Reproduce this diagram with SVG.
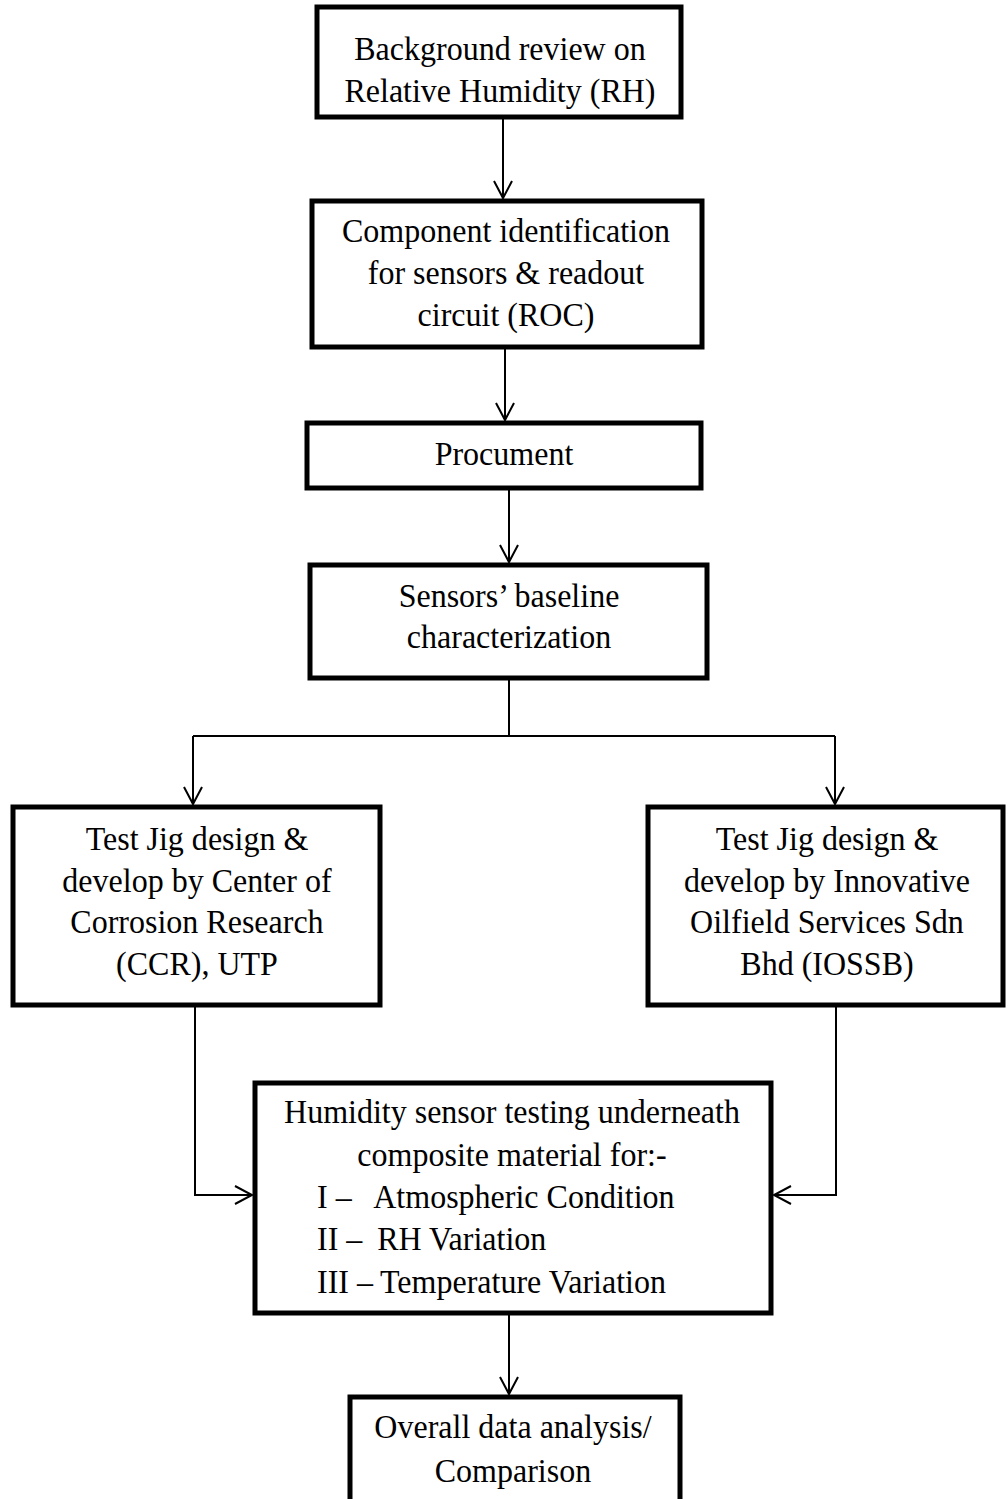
<svg xmlns="http://www.w3.org/2000/svg" width="1008" height="1499" viewBox="0 0 1008 1499">
<style>
.box{fill:#fff;stroke:#000;stroke-width:5;stroke-linejoin:miter}
.t{font-family:"Liberation Serif","Times New Roman",serif;font-size:33px;fill:#000;text-anchor:middle;transform-box:fill-box;transform-origin:center;transform:scaleX(0.97)}
.l{font-family:"Liberation Serif","Times New Roman",serif;font-size:33px;fill:#000;text-anchor:start;transform-box:fill-box;transform-origin:left center;transform:scaleX(0.97)}
.c{fill:none;stroke:#000;stroke-width:2}
</style>
<defs>
<marker id="arr" markerUnits="userSpaceOnUse" markerWidth="40" markerHeight="40" viewBox="-20 -20 40 40" refX="0" refY="0" orient="auto" overflow="visible">
<path d="M-17,-9 L0,0 L-17,9" fill="none" stroke="#000" stroke-width="2"/>
</marker>
</defs>
<rect width="1008" height="1499" fill="#fff"/>
<g id="connectors">
<line class="c" x1="503" y1="117" x2="503" y2="198" marker-end="url(#arr)"/>
<line class="c" x1="505" y1="347" x2="505" y2="420" marker-end="url(#arr)"/>
<line class="c" x1="509" y1="488" x2="509" y2="562" marker-end="url(#arr)"/>
<polyline class="c" points="509,678 509,736"/>
<polyline class="c" points="193,736 835,736"/>
<line class="c" x1="193" y1="736" x2="193" y2="804" marker-end="url(#arr)"/>
<line class="c" x1="835" y1="736" x2="835" y2="804" marker-end="url(#arr)"/>
<polyline class="c" points="195,1005 195,1195 252,1195" marker-end="url(#arr)"/>
<polyline class="c" points="836,1005 836,1195 774,1195" marker-end="url(#arr)"/>
<line class="c" x1="509" y1="1313" x2="509" y2="1394" marker-end="url(#arr)"/>
</g>
<g id="n1">
<rect class="box" x="317" y="7" width="364" height="110"/>
<text class="t" x="500" y="60">Background review on</text>
<text class="t" x="500" y="102">Relative Humidity (RH)</text>
</g>
<g id="n2">
<rect class="box" x="312" y="201" width="390" height="146"/>
<text class="t" x="506" y="242">Component identification</text>
<text class="t" x="506" y="284">for sensors &amp; readout</text>
<text class="t" x="506" y="326">circuit (ROC)</text>
</g>
<g id="n3">
<rect class="box" x="307" y="423" width="394" height="65"/>
<text class="t" x="504" y="465">Procument</text>
</g>
<g id="n4">
<rect class="box" x="310" y="565" width="397" height="113"/>
<text class="t" x="509" y="607">Sensors’ baseline</text>
<text class="t" x="509" y="648">characterization</text>
</g>
<g id="n5">
<rect class="box" x="13" y="807" width="367" height="198"/>
<text class="t" x="197" y="850">Test Jig design &amp;</text>
<text class="t" x="197" y="892">develop by Center of</text>
<text class="t" x="197" y="933">Corrosion Research</text>
<text class="t" x="197" y="975">(CCR), UTP</text>
</g>
<g id="n6">
<rect class="box" x="648" y="807" width="355" height="198"/>
<text class="t" x="827" y="850">Test Jig design &amp;</text>
<text class="t" x="827" y="892">develop by Innovative</text>
<text class="t" x="827" y="933">Oilfield Services Sdn</text>
<text class="t" x="827" y="975">Bhd (IOSSB)</text>
</g>
<g id="n7">
<rect class="box" x="255" y="1083" width="516" height="230"/>
<text class="t" x="512" y="1123">Humidity sensor testing underneath</text>
<text class="t" x="512" y="1166">composite material for:-</text>
<text class="l" x="317" y="1208">I –<tspan x="375">Atmospheric Condition</tspan></text>
<text class="l" x="317" y="1250">II –<tspan x="379">RH Variation</tspan></text>
<text class="l" x="317" y="1293">III –<tspan x="382">Temperature Variation</tspan></text>
</g>
<g id="n8">
<rect class="box" x="350" y="1397" width="330" height="120"/>
<text class="t" x="513" y="1438">Overall data analysis/</text>
<text class="t" x="513" y="1482">Comparison</text>
</g>
</svg>
